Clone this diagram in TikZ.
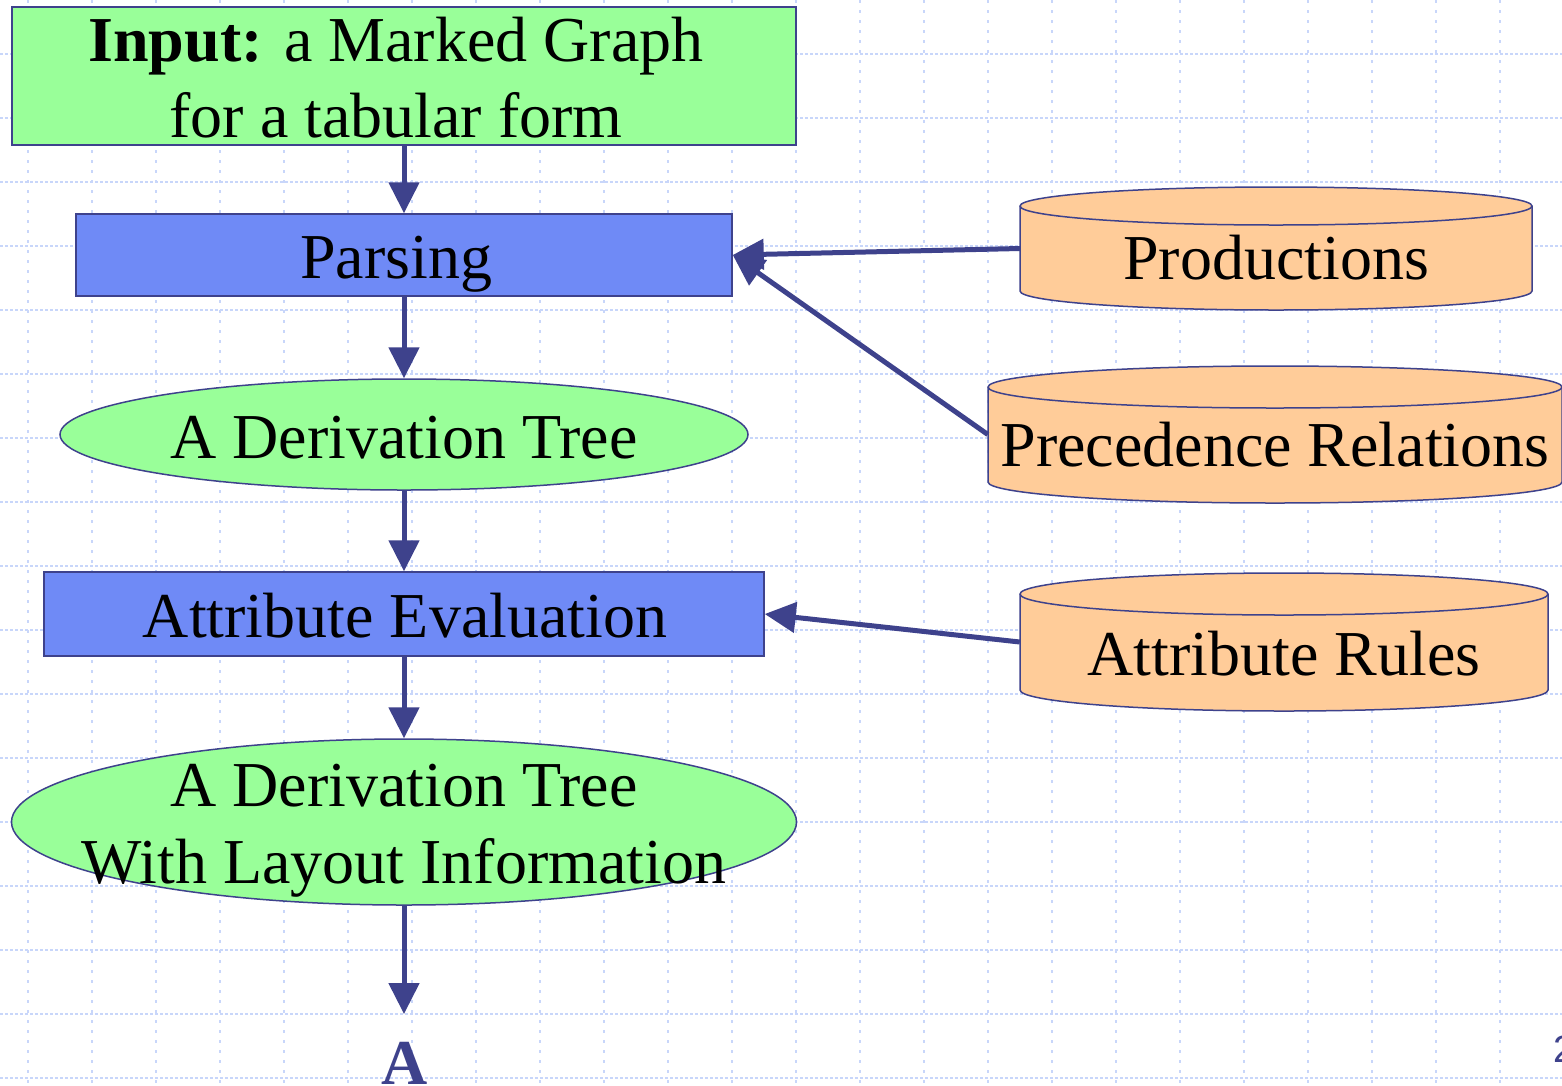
\documentclass[tikz,border=0pt]{standalone}
\usepackage{fontspec}
\setmainfont{Liberation Serif}
\newfontfamily\numfont{Liberation Sans}
\usetikzlibrary{arrows.meta,shapes.geometric}

\definecolor{gridblue}{RGB}{200,214,250}
\definecolor{edgeblue}{RGB}{62,66,140}
\definecolor{boxgreen}{RGB}{153,255,153}
\definecolor{boxblue}{RGB}{111,138,246}
\definecolor{storeorange}{RGB}{255,204,153}

% data store drawn as a cylinder: name, centre x, top y, bottom y, x radius, cap y radius
\newcommand\storecyl[6]{%
  \draw[outline, fill=storeorange]
    (#2-#5,#3+#6) -- (#2-#5,#4-#6)
    arc[start angle=180, end angle=360, x radius=#5pt, y radius=#6pt]
    -- (#2+#5,#3+#6)
    arc[start angle=0, end angle=180, x radius=#5pt, y radius=#6pt] -- cycle;
  \draw[outline] (#2-#5,#3+#6)
    arc[start angle=180, end angle=360, x radius=#5pt, y radius=#6pt];
  \node[inner sep=0pt, minimum width={2*#5*1pt}, minimum height={(#4-#3)*1pt}]
    (#1) at (#2,{(#3+#4)/2}) {};
}

\begin{document}
\begin{tikzpicture}[x=1pt, y=-1pt,
  outline/.style={draw=edgeblue, line width=1.5pt},
  iobox/.style={outline, rectangle, fill=boxgreen, inner sep=0pt},
  procbox/.style={outline, rectangle, fill=boxblue, inner sep=0pt},
  treenode/.style={outline, ellipse, fill=boxgreen, inner sep=0pt},
  txt/.style={font=\fontsize{64}{76}\selectfont, anchor=base, inner sep=0pt},
  flow/.style={draw=edgeblue, line width=5pt, -{Triangle[length=31pt,width=30pt]}},
  hgrid/.style={draw=gridblue, line width=2pt, dash pattern=on 3pt off 2pt},
  vgrid/.style={draw=gridblue, line width=2pt, dash pattern=on 3pt off 7pt}]

\useasboundingbox (0,0) rectangle (1562,1085);
\clip (0,0) rectangle (1562,1085);
\fill[white] (0,0) rectangle (1562,1085);

% background grid
\foreach \gy in {54,118,...,1078} \draw[hgrid] (0,\gy) -- (1562,\gy);
\foreach \gx in {28,92,...,1500} \draw[vgrid] (\gx,0) -- (\gx,1085);

% main flow
\node[iobox, minimum width=784pt, minimum height=138pt] (input) at (404,76) {};
\node[txt] (inputA) at (396,61) {\textbf{Input:} a Marked Graph};
\node[txt] (inputB) at (396,137) {for a tabular form};

\node[procbox, minimum width=656pt, minimum height=82pt] (parse) at (404,255) {};
\node[txt] (parseT) at (396,278) {Parsing};

\node[treenode, minimum width=688pt, minimum height=111pt] (dtree) at (404,434.5) {};
\node[txt] (dtreeT) at (404,458) {A Derivation Tree};

\node[procbox, minimum width=720pt, minimum height=84pt] (aeval) at (404,614) {};
\node[txt] (aevalT) at (405,637) {Attribute Evaluation};

\node[treenode, minimum width=785pt, minimum height=166pt] (ltree) at (404,822) {};
\node[txt] (ltreeA) at (404,806) {A Derivation Tree};
\node[txt] (ltreeB) at (404,883) {With Layout Information};

\coordinate (next) at (404,1014);
\node[txt, font=\fontsize{64}{76}\selectfont\bfseries, text=edgeblue] (nextT) at (405,1084) {A};

% data stores
\storecyl{prod}{1276}{187}{310}{256}{19}
\node[txt] (prodT) at (1276,279) {Productions};
\storecyl{prec}{1275}{366}{503}{287}{21}
\node[txt] (precT) at (1275,466) {Precedence Relations};
\storecyl{arules}{1284}{573}{711}{264}{21}
\node[txt] (arulesT) at (1284,675) {Attribute Rules};

% connectors
\draw[flow] (input.south) -- (parse.north);
\draw[flow] (parse.south) -- (dtree.north);
\draw[flow] (dtree.south) -- (aeval.north);
\draw[flow] (aeval.south) -- (ltree.north);
\draw[flow] (ltree.south) -- (next);
\draw[flow] (prod.west) -- (parse.east);
\draw[flow] (prec.west) -- (parse.east);
\draw[flow] (arules.west) -- (aeval.east);

% page number
\node[anchor=base west, inner sep=0pt, text=edgeblue, font=\numfont\fontsize{38}{40}\selectfont] (pageno) at (1553,1062) {2};
\end{tikzpicture}
\end{document}
